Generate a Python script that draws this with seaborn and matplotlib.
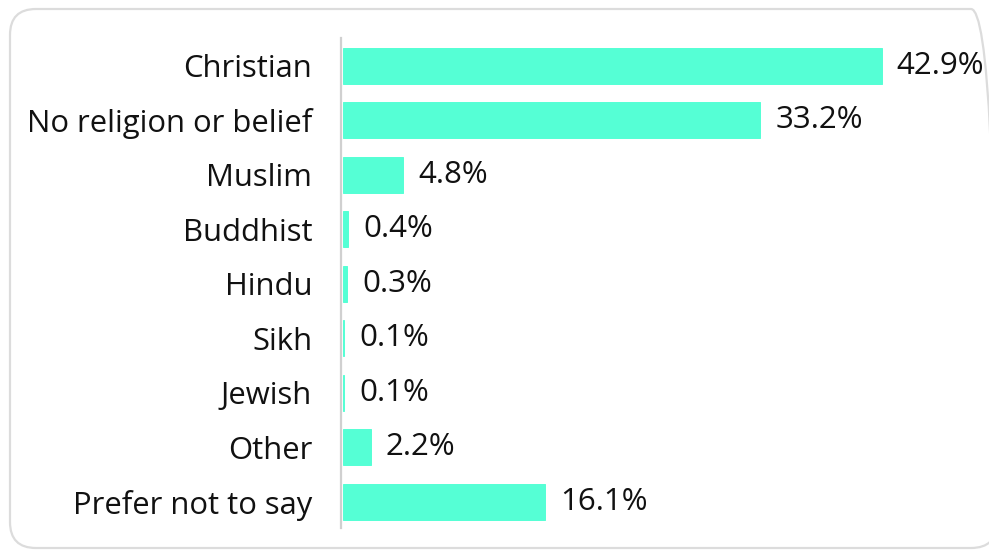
import matplotlib
matplotlib.use("Agg")
import matplotlib.pyplot as plt
import seaborn as sns
import pandas as pd
from matplotlib.patches import FancyBboxPatch

categories = ["Christian", "No religion or belief", "Muslim", "Buddhist", "Hindu",
              "Sikh", "Jewish", "Other", "Prefer not to say"]
values = [42.9, 33.2, 4.8, 0.4, 0.3, 0.1, 0.1, 2.2, 16.1]
value_labels = ["42.9%", "33.2%", "4.8%", "0.4%", "0.3%", "0.1%", "0.1%", "2.2%", "16.1%"]

sns.set_theme(style="white")
plt.rcParams['font.family'] = ['Open Sans', 'DejaVu Sans']

W, H = 989, 551
fig = plt.figure(figsize=(W / 100, H / 100), dpi=100)

# rounded frame (coordinates in inches)
frame = FancyBboxPatch((0.10, 0.03), 9.87, 5.39,
                       boxstyle="round,pad=0,rounding_size=0.26",
                       transform=fig.dpi_scale_trans, facecolor="none",
                       edgecolor="#dcdcdc", linewidth=1.6, zorder=-1)
fig.patches.append(frame)

left, right = 343, 982
top, bottom = 38, 528
ax = fig.add_axes([left / W, 1 - bottom / H, (right - left) / W, (bottom - top) / H])
ax.set_facecolor("none")

bar_color = "#55FFD5"
df = pd.DataFrame({"category": categories, "value": values})
sns.barplot(data=df, x="value", y="category", color=bar_color, saturation=1,
            width=0.66, ax=ax, zorder=3, edgecolor=bar_color, linewidth=0.7)

ax.bar_label(ax.containers[0], labels=value_labels, padding=11, fontsize=22.5,
             color="#111111")

ax.set_xlim(0, 50.9)
ax.set_ylim(8.48, -0.51)
ax.set_xlabel("")
ax.set_ylabel("")
ax.set_xticks([])
for s in ["top", "right", "bottom"]:
    ax.spines[s].set_visible(False)
ax.spines["left"].set_color("#d0d0d0")
ax.spines["left"].set_linewidth(1.6)
ax.spines["left"].set_position(("outward", 1.2))
ax.tick_params(axis="y", length=0, pad=21, labelsize=22.3, labelcolor="#111111")

fig.savefig("out.png", dpi=100)
